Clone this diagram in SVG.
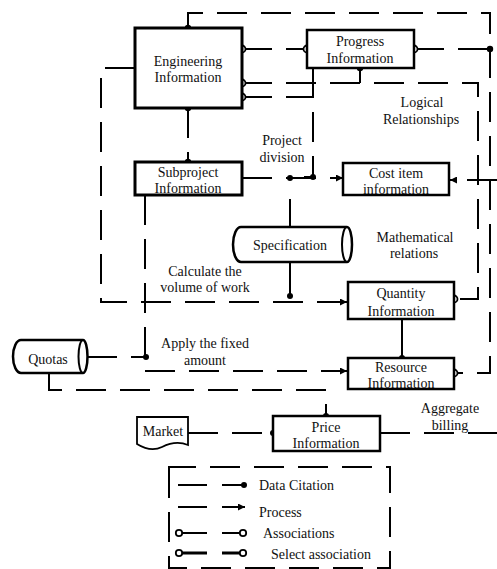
<svg xmlns="http://www.w3.org/2000/svg" width="497" height="569" viewBox="0 0 497 569">
<defs>
<marker id="arr" viewBox="0 0 10 10" refX="10" refY="5" markerWidth="9" markerHeight="7" markerUnits="userSpaceOnUse" orient="auto"><path d="M0,0 L10,5 L0,10 Z" fill="#000"/></marker>
</defs>
<style>
.box{fill:#fff;stroke:#000;stroke-width:2.5}
.dash{fill:none;stroke:#000;stroke-width:2;stroke-dasharray:30 14}
.solid{fill:none;stroke:#000;stroke-width:2}
.thick{fill:none;stroke:#000;stroke-width:3}
.dot{fill:#000}
.ring{fill:#fff;stroke:#000;stroke-width:1.8}
text{font-family:"Liberation Serif","Times New Roman",serif;font-size:14px;fill:#111;text-anchor:middle}
.lg{text-anchor:start}
</style>
<rect width="497" height="569" fill="#fff"/>
<g id="connectors">
<path class="dash" d="M188,28 V13 H490 V373 H456"/>
<path class="dash" d="M242,49 H307"/>
<path class="dash" d="M414,49 H490"/>
<path class="dash" d="M242,83 H478 V299 H457"/>
<path class="solid" d="M360,68 V83"/>
<path class="dash" d="M242,97 H313"/>
<path class="dash" d="M313,68 V177 H290"/>
<path class="dash" d="M242,178 H343" marker-end="url(#arr)"/>
<path class="solid" d="M290,199 V227"/>
<path class="solid" d="M290,262 V296"/>
<path class="dash" d="M135,68 H101 V302 H347" marker-end="url(#arr)"/>
<path class="dash" d="M145,195 V371 H347" marker-end="url(#arr)"/>
<path class="dash" d="M87,357 H146"/>
<path class="dash" d="M49,373 V390 H326 V416"/>
<path class="solid" d="M402,319 V358"/>
<path class="dash" d="M497,180 H450" marker-end="url(#arr)"/>
<path class="dash" d="M188,433 H273"/>
<path class="dash" d="M380,433 H497"/>
<path class="dash" d="M188,108 V162"/>
<circle class="dot" cx="188" cy="28" r="3.2"/>
<circle class="dot" cx="188" cy="108" r="3.2"/>
<circle class="dot" cx="188" cy="162" r="3.2"/>
<circle class="ring" cx="242" cy="49" r="3.5"/>
<circle class="ring" cx="242" cy="83" r="3.5"/>
<circle class="ring" cx="242" cy="97" r="3.5"/>
<circle class="ring" cx="307" cy="49" r="3.5"/>
<circle class="ring" cx="414" cy="49" r="3.5"/>
<circle class="dot" cx="490" cy="49" r="3.2"/>
<circle class="dot" cx="360" cy="68" r="3.2"/>
<circle class="dot" cx="313" cy="177" r="3"/>
<circle class="dot" cx="290" cy="178" r="3"/>
<circle class="dot" cx="290" cy="296" r="3"/>
<circle class="ring" cx="454" cy="299" r="3.5"/>
<circle class="dot" cx="402" cy="358" r="3"/>
<circle class="ring" cx="454" cy="373" r="3.5"/>
<circle class="dot" cx="146" cy="357" r="3"/>
<circle class="dot" cx="326" cy="416" r="3"/>
<circle class="dot" cx="273" cy="433" r="3"/>
</g>
<g id="engineering">
<rect x="135" y="28" width="107" height="80" fill="#fff" stroke="#000" stroke-width="3"/>
<text x="188" y="66">Engineering</text>
<text x="188" y="82">Information</text>
</g>
<g id="progress">
<rect class="box" x="307" y="30" width="107" height="38"/>
<text x="360" y="46">Progress</text>
<text x="360" y="63">Information</text>
</g>
<g id="subproject">
<rect x="135" y="162" width="107" height="33" fill="#fff" stroke="#000" stroke-width="3"/>
<text x="188" y="177">Subproject</text>
<text x="188" y="193">Information</text>
</g>
<g id="costitem">
<rect class="box" x="343" y="163" width="106" height="32"/>
<text x="396" y="178">Cost item</text>
<text x="396" y="194">information</text>
</g>
<g id="specification">
<path class="box" d="M241,227 H347 A5,17.5 0 0 1 347,262 H241 A8,17.5 0 0 1 241,227 Z"/>
<path class="solid" d="M347,227 A5,17.5 0 0 0 347,262"/>
<text x="290" y="250">Specification</text>
</g>
<g id="quantity">
<rect class="box" x="348" y="282" width="106" height="37"/>
<text x="401" y="298">Quantity</text>
<text x="401" y="316">Information</text>
</g>
<g id="resource">
<rect class="box" x="348" y="358" width="106" height="31"/>
<text x="401" y="372">Resource</text>
<text x="401" y="388">Information</text>
</g>
<g id="quotas">
<path class="box" d="M21,340 H83 A4.5,16.5 0 0 1 83,373 H21 A8,16.5 0 0 1 21,340 Z" stroke-width="2"/>
<path class="solid" d="M83,340 A4.5,16.5 0 0 0 83,373"/>
<text x="48" y="364">Quotas</text>
</g>
<g id="market">
<path d="M137,417 H188 V445 C178,441 170,443 162,447 C154,451 145,449 137,444 Z" fill="#fff" stroke="#000" stroke-width="1.8"/>
<text x="163" y="436">Market</text>
</g>
<g id="price">
<rect class="box" x="273" y="416" width="107" height="35"/>
<text x="326" y="432">Price</text>
<text x="326" y="448">Information</text>
</g>
<g id="labels">
<text x="282" y="145">Project</text>
<text x="282" y="162">division</text>
<text x="422" y="107">Logical</text>
<text x="421" y="124">Relationships</text>
<text x="415" y="242">Mathematical</text>
<text x="414" y="258">relations</text>
<text x="205" y="276">Calculate the</text>
<text x="205" y="292">volume of work</text>
<text x="205" y="348">Apply the fixed</text>
<text x="205" y="365">amount</text>
<text x="450" y="413">Aggregate</text>
<text x="450" y="430">billing</text>
</g>
<g id="legend">
<path class="dash" d="M169,470 V467 H390 V568 H169 V470"/>
<path class="solid" stroke-width="1.8" d="M178,485 H207 M222,485 H243"/>
<circle class="dot" cx="244" cy="485" r="3"/>
<path class="solid" stroke-width="1.8" d="M178,507 H207 M222,507 H245" marker-end="url(#arr)"/>
<path class="solid" stroke-width="1.8" d="M182,533 H207 M222,533 H240"/>
<circle class="ring" cx="179" cy="533" r="3.2"/>
<circle class="ring" cx="243" cy="533" r="3.2"/>
<path class="thick" d="M182,553 H207 M222,553 H240"/>
<circle class="ring" cx="179" cy="553" r="3.2"/>
<circle class="ring" cx="243" cy="553" r="3.2"/>
<text class="lg" x="259" y="490">Data Citation</text>
<text class="lg" x="259" y="517">Process</text>
<text class="lg" x="263" y="538">Associations</text>
<text class="lg" x="271" y="559">Select association</text>
</g>
</svg>
